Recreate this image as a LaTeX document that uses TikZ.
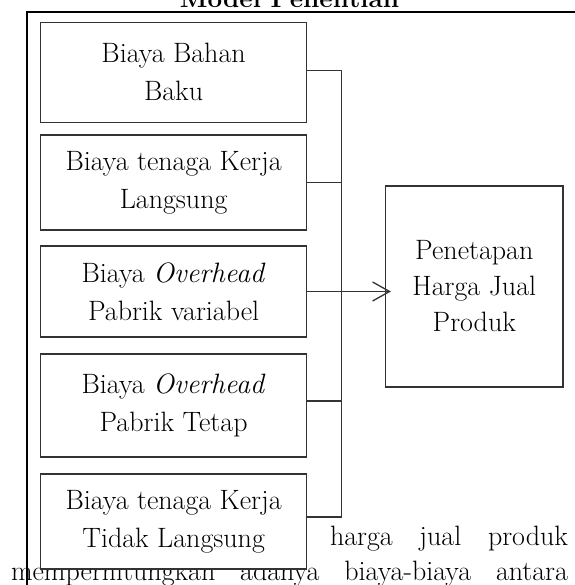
\documentclass[tikz,border=0pt]{standalone}
\usepackage{xcolor}
\usepackage{tikz}
\usetikzlibrary{positioning,arrows.meta,calc}

\tikzset{
  costbox/.style={draw=lineColor, line width=1.3pt, fill=white, inner sep=0pt,
    minimum width=266pt, align=center, font=\fontsize{28}{38}\selectfont},
  resultbox/.style={draw=lineColor, line width=1.3pt, fill=white, inner sep=0pt,
    minimum width=177.5pt, minimum height=201pt, align=center, font=\fontsize{28}{36}\selectfont},
  linkline/.style={draw=lineColor, line width=1.3pt},
  bodytext/.style={anchor=base west, inner sep=0pt, outer sep=0pt, font=\fontsize{28}{30}\selectfont},
}

\begin{document}
\begin{tikzpicture}[x=1pt,y=1pt]
\definecolor{lineColor}{gray}{0.2}
\path[use as bounding box,fill=white] (0,0) rectangle (574,585);

% text of the page behind the figure
\node[bodytext] (paraA) at (330,39) {\makebox[238pt][s]{harga jual produk}};
\node[bodytext] (paraB) at (11,5) {\makebox[557pt][s]{memperhitungkan adanya biaya-biaya antara}};

% frame and title
\node[anchor=base, inner sep=0pt, font=\fontsize{26}{30}\selectfont\bfseries] (title) at (289.5,577.7) {Model Penelitian};
\path[draw=black, line width=2pt] (27,-2) -- (27,573.3) -- (577,573.3);

% cost boxes
\node[costbox, minimum height=100pt] (bahan) at (173.6,512.7) {Biaya Bahan\\Baku};
\node[costbox, minimum height=95pt] (tenaga) at (173.6,402.5) {Biaya tenaga Kerja\\Langsung};
\node[costbox, minimum height=91pt] (ohVariabel) at (173.6,293.5) {Biaya \textit{Overhead}\\Pabrik variabel};
\node[costbox, minimum height=103pt] (ohTetap) at (173.6,179.5) {Biaya \textit{Overhead}\\Pabrik Tetap};
\node[costbox, minimum height=95pt] (tidakLangsung) at (173.6,63.5) {Biaya tenaga Kerja\\Tidak Langsung};

% result box
\node[resultbox] (harga) at (474.3,298.5) {Penetapan\\Harga Jual\\Produk};

% connectors
\coordinate (bus) at (341.7,0);
\draw[linkline] ([yshift=1.6pt]bahan.east) -- ([yshift=1.6pt]bahan.east -| bus)
  -- ([yshift=4.5pt]tidakLangsung.east -| bus) -- ([yshift=4.5pt]tidakLangsung.east);
\draw[linkline] (tenaga.east) -- (tenaga.east -| bus);
\draw[linkline] ([yshift=4.5pt]ohTetap.east) -- ([yshift=4.5pt]ohTetap.east -| bus);
\draw[linkline, -{Straight Barb[length=17pt,width=19pt]}, shorten >=-6pt] (ohVariabel.east) -- (ohVariabel.east -| harga.west);
\end{tikzpicture}
\end{document}
